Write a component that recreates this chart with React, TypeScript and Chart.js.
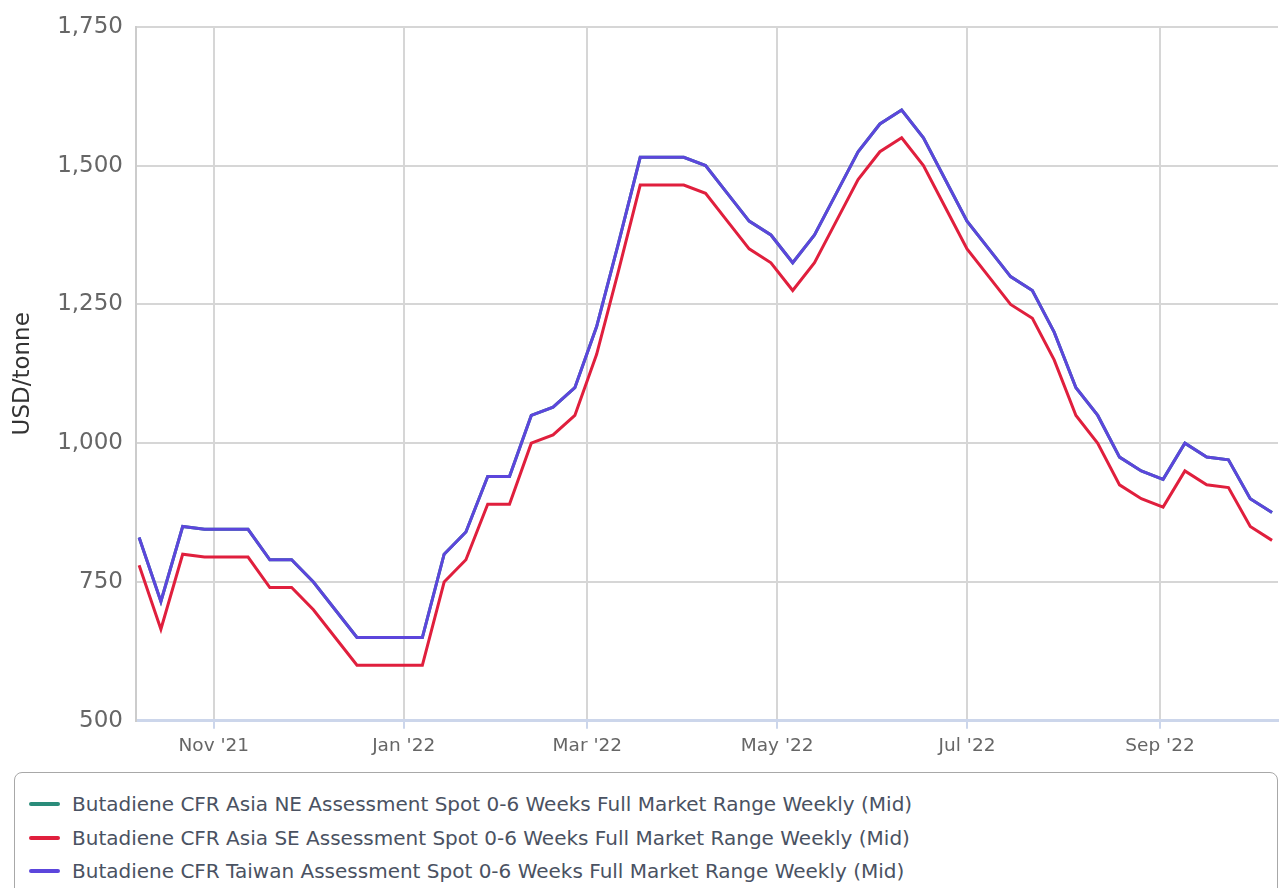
import React, { useEffect, useRef } from "react";
import { Chart, registerables } from "chart.js";

Chart.register(...registerables);

// Weekly assessment dates (Fridays)
const weekDates = [
  "2021-10-08", "2021-10-15", "2021-10-22", "2021-10-29", "2021-11-05", "2021-11-12",
  "2021-11-19", "2021-11-26", "2021-12-03", "2021-12-10", "2021-12-17", "2021-12-24",
  "2021-12-31", "2022-01-07", "2022-01-14", "2022-01-21", "2022-01-28", "2022-02-04",
  "2022-02-11", "2022-02-18", "2022-02-25", "2022-03-04", "2022-03-11", "2022-03-18",
  "2022-03-25", "2022-04-01", "2022-04-08", "2022-04-15", "2022-04-22", "2022-04-29",
  "2022-05-06", "2022-05-13", "2022-05-20", "2022-05-27", "2022-06-03", "2022-06-10",
  "2022-06-17", "2022-06-24", "2022-07-01", "2022-07-08", "2022-07-15", "2022-07-22",
  "2022-07-29", "2022-08-05", "2022-08-12", "2022-08-19", "2022-08-26", "2022-09-02",
  "2022-09-09", "2022-09-16", "2022-09-23", "2022-09-30", "2022-10-07",
];

// Butadiene CFR Asia NE (hidden under the Taiwan line)
const neValues = [
  830, 715, 850, 845, 845, 845, 790, 790, 750, 700,
  650, 650, 650, 650, 800, 840, 940, 940, 1050, 1065,
  1100, 1210, 1360, 1515, 1515, 1515, 1500, 1450, 1400, 1375,
  1325, 1375, 1450, 1525, 1575, 1600, 1550, 1475, 1400, 1350,
  1300, 1275, 1200, 1100, 1050, 975, 950, 935, 1000, 975,
  970, 900, 875,
];

// Butadiene CFR Asia SE
const seValues = [
  780, 665, 800, 795, 795, 795, 740, 740, 700, 650,
  600, 600, 600, 600, 750, 790, 890, 890, 1000, 1015,
  1050, 1160, 1310, 1465, 1465, 1465, 1450, 1400, 1350, 1325,
  1275, 1325, 1400, 1475, 1525, 1550, 1500, 1425, 1350, 1300,
  1250, 1225, 1150, 1050, 1000, 925, 900, 885, 950, 925,
  920, 850, 825,
];

// Butadiene CFR Taiwan
const taiwanValues = [
  830, 715, 850, 845, 845, 845, 790, 790, 750, 700,
  650, 650, 650, 650, 800, 840, 940, 940, 1050, 1065,
  1100, 1210, 1360, 1515, 1515, 1515, 1500, 1450, 1400, 1375,
  1325, 1375, 1450, 1525, 1575, 1600, 1550, 1475, 1400, 1350,
  1300, 1275, 1200, 1100, 1050, 975, 950, 935, 1000, 975,
  970, 900, 875,
];

const seriesNames = [
  "Butadiene CFR Asia NE Assessment Spot 0-6 Weeks Full Market Range Weekly (Mid)",
  "Butadiene CFR Asia SE Assessment Spot 0-6 Weeks Full Market Range Weekly (Mid)",
  "Butadiene CFR Taiwan Assessment Spot 0-6 Weeks Full Market Range Weekly (Mid)",
];
const seriesColors = ["#2a8c7a", "#e01f3d", "#5c46dc"];

const xTickDates = ["2021-11-01", "2022-01-01", "2022-03-01", "2022-05-01", "2022-07-01", "2022-09-01"];
const xTickLabels = ["Nov '21", "Jan '22", "Mar '22", "May '22", "Jul '22", "Sep '22"];
const xRange = ["2021-10-07T00:00:00Z", "2022-10-08T22:00:00Z"];
const yTicks = [500, 750, 1000, 1250, 1500, 1750];
const yTitle = "USD/tonne";

const FONT = "'DejaVu Sans', sans-serif";

const ms = (s: string) => Date.parse(s.length === 10 ? s + "T00:00:00Z" : s);

export default function App() {
  const ref = useRef<HTMLCanvasElement | null>(null);

  useEffect(() => {
    document.body.style.margin = "0";
    const canvas = ref.current;
    if (!canvas) return;
    const allValues = [neValues, seValues, taiwanValues];
    const chart = new Chart(canvas, {
      type: "line",
      data: {
        datasets: allValues.map((vals, i) => ({
          label: seriesNames[i],
          data: vals.map((v, j) => ({ x: ms(weekDates[j]), y: v })),
          borderColor: seriesColors[i],
          backgroundColor: seriesColors[i],
          borderWidth: 3,
          pointRadius: 0,
          tension: 0,
          fill: false,
          order: 3 - i,
        })),
      },
      options: {
        animation: false,
        responsive: false,
        maintainAspectRatio: false,
        layout: { padding: { top: 25, right: 2, bottom: 7, left: 0 } },
        plugins: {
          legend: { display: false },
          tooltip: { enabled: false },
        },
        scales: {
          x: {
            type: "linear",
            min: ms(xRange[0]),
            max: ms(xRange[1]),
            afterBuildTicks: (s: any) => {
              s.ticks = xTickDates.map((d) => ({ value: ms(d) }));
            },
            ticks: {
              autoSkip: false,
              maxRotation: 0,
              minRotation: 0,
              padding: 6,
              color: "#666",
              font: { family: FONT, size: 18.5 },
              callback: (_v: any, i: number) => xTickLabels[i],
            },
            grid: {
              color: "#d6d6d6",
              lineWidth: 2,
              tickLength: 8,
              tickColor: "#ccd6eb",
              tickWidth: 2,
            },
            border: { color: "#ccd6eb", width: 3 },
          },
          y: {
            min: yTicks[0],
            max: yTicks[yTicks.length - 1],
            afterBuildTicks: (s: any) => {
              s.ticks = yTicks.map((v) => ({ value: v }));
            },
            afterFit: (s: any) => {
              s.width = 136;
            },
            ticks: {
              padding: 13,
              color: "#666",
              font: { family: FONT, size: 23 },
              callback: (v: any) => Number(v).toLocaleString("en-US"),
            },
            grid: { color: "#d6d6d6", lineWidth: 2, drawTicks: false },
            border: { color: "#cccccc", width: 2 },
            title: {
              display: true,
              text: yTitle,
              color: "#333",
              font: { family: FONT, size: 23 },
              padding: { top: 9, bottom: 0 },
            },
          },
        },
      },
    } as any);
    return () => chart.destroy();
  }, []);

  return (
    <div style={{ position: "absolute", left: 0, top: 0, width: 1280, height: 888, overflow: "hidden", background: "#fff" }}>
      <canvas ref={ref} width={1280} height={770} style={{ position: "absolute", left: 0, top: 0, width: 1280, height: 770 }} />
      <div
        style={{
          position: "absolute",
          left: 14,
          top: 772,
          width: 1264,
          height: 140,
          border: "1.5px solid #a8a8a8",
          borderRadius: 8,
          boxSizing: "border-box",
        }}
      />
      {seriesNames.map((name, i) => (
        <div
          key={name}
          style={{
            position: "absolute",
            left: 29,
            top: 804 + i * 33.5 - 13,
            height: 26,
            display: "flex",
            alignItems: "center",
            fontFamily: FONT,
            fontSize: 20,
            color: "#4a5262",
            whiteSpace: "nowrap",
          }}
        >
          <span style={{ display: "inline-block", width: 31, height: 4, borderRadius: 2, background: seriesColors[i], marginRight: 12 }} />
          <span>{name}</span>
        </div>
      ))}
    </div>
  );
}
